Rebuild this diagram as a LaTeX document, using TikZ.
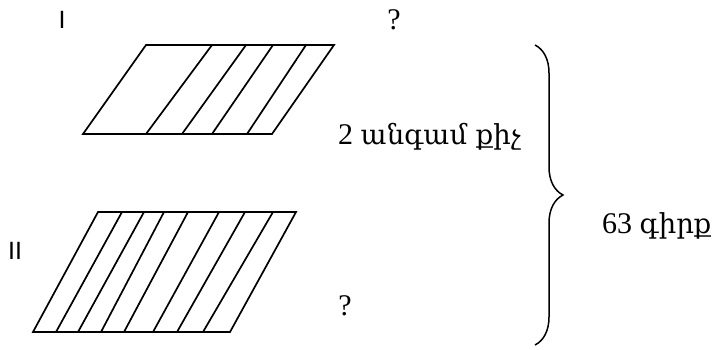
\documentclass[tikz,border=0pt]{standalone}
\usepackage{fontspec}
\setmainfont{Liberation Serif}
\newfontfamily\armfont{DejaVu Serif}
\newfontfamily\romfont{Liberation Sans}
\newcommand{\armword}[1]{{\armfont\fontsize{27.5}{32}\selectfont #1}}
\usetikzlibrary{decorations.pathreplacing}
\tikzset{
  slab/.style={draw=black, line width=1.7pt, line join=miter},
  stripe/.style={draw=black, line width=1.7pt},
  numlabel/.style={font=\romfont\fontsize{25}{28}\selectfont, inner sep=0pt},
  textlabel/.style={font=\fontsize{30}{34}\selectfont, inner sep=0pt},
  brace/.style={decorate, decoration={brace, amplitude=#1}, line width=1.5pt},
  brace/.default=28pt,
}

\begin{document}
\begin{tikzpicture}[x=1pt, y=-1pt]
  \useasboundingbox (0,0) rectangle (714,349);
  % first part
  \node[numlabel] (one) at (62,20) {I};
  \node[textlabel] (q1) at (394,20) {?};
  \draw[slab] (146,45) -- (334,45) -- (272,134) -- (83,134) -- cycle;
  \foreach \t/\b in {212/146, 246/182, 273/212, 306/247}
    \draw[stripe] (\t,45) -- (\b,134);
  \node[textlabel, anchor=west] (less) at (338,137) {2 \armword{անգամ քիչ}};
  % second part
  \node[numlabel] (two) at (15,251) {II};
  \node[textlabel] (q2) at (345,306) {?};
  \draw[slab] (98,212) -- (296,212) -- (230,332) -- (33,332) -- cycle;
  \foreach \t/\b in {122/56, 144/78, 164/101, 188/124, 219/153, 245/177, 273/203}
    \draw[stripe] (\t,212) -- (\b,332);
  % total
  \coordinate (btop) at (535,45);
  \coordinate (bbot) at (535,345);
  \draw[brace] (btop) -- (bbot);
  \node[textlabel, anchor=west] (total) at (602,226) {63 \armword{գիրք}};
\end{tikzpicture}
\end{document}
